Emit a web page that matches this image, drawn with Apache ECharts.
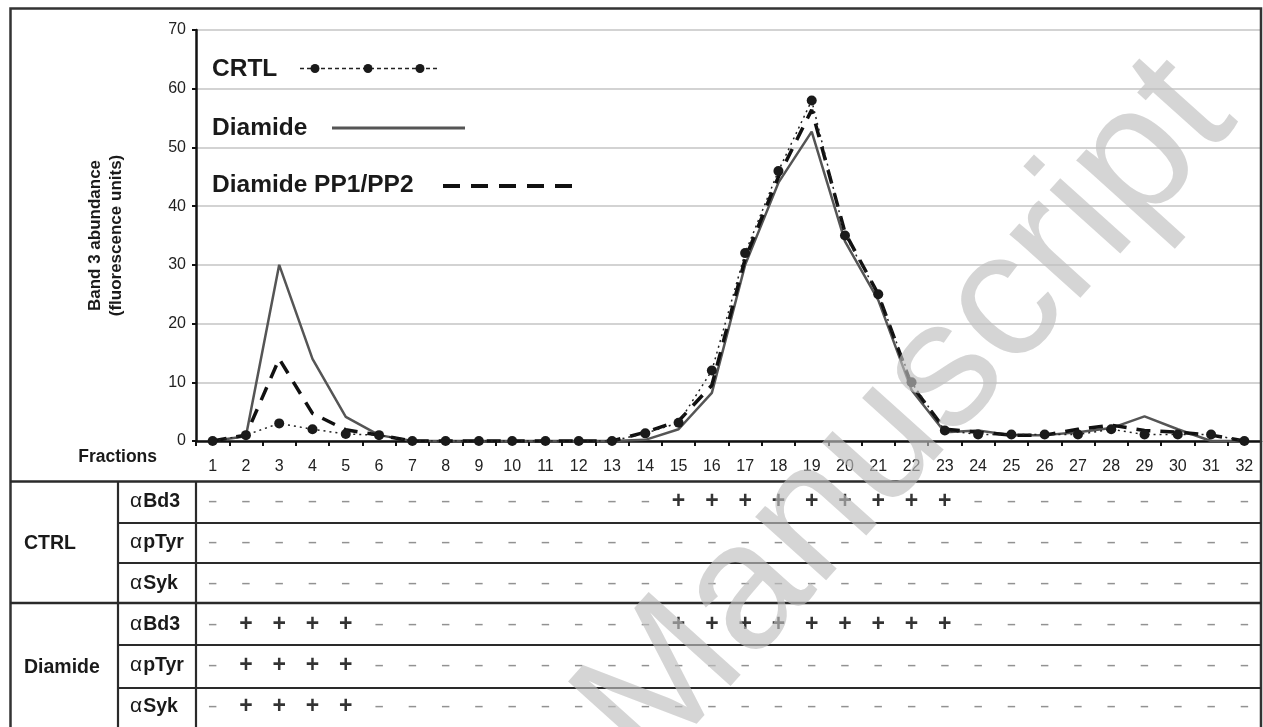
<!DOCTYPE html>
<html><head><meta charset="utf-8">
<script src="https://cdn.jsdelivr.net/npm/echarts@6/dist/echarts.min.js"></script>
<style>html,body{margin:0;padding:0;background:#fff}#c{width:1263px;height:727px}</style>
</head><body><div id="c"></div>
<script>
// ---- data ----
const fractions = ['1','2','3','4','5','6','7','8','9','10','11','12','13','14','15','16','17','18','19','20','21','22','23','24','25','26','27','28','29','30','31','32'];
const yTicks = [0, 70, 10]; // min, max, interval
const seriesNames = ['CRTL', 'Diamide', 'Diamide PP1/PP2'];
const crtl      = [0,1,3,2,1.2,1,0,0,0,0,0,0,0,1.3,3.1,12,32,46,58,35,25,10,1.8,1.1,1.1,1.1,1.1,2,1.1,1.1,1.1,0];
const diamide   = [0,0.8,30,14,4.1,1,0,0,0,0,0,0,0,0.2,2,8.2,30,44,52.7,34,24,8.7,1.5,1.8,1,1,1.5,2.2,4.2,2,0,0];
const diamidePP = [0,1,14,4.7,1.9,1,0,0,0,0,0,0,0,1.5,3.4,9.5,31,45,56.4,35.5,25,9.5,2,1.5,1,1,2,2.7,1.8,1.5,1,0];
const tableGroups = ['CTRL', 'Diamide'];
const tableRows = ['αBd3','αpTyr','αSyk','αBd3','αpTyr','αSyk'];
const tableMarks = [
  '--------------+++++++++---------',
  '--------------------------------',
  '--------------------------------',
  '-++++---------+++++++++---------',
  '-++++---------------------------',
  '-++++---------------------------'
];

// ---- build ----
const FONT = '"Liberation Sans", Arial, Helvetica, sans-serif';
const plusData = [], minusData = [];
tableMarks.forEach((row, r) => {
  row.split('').forEach((ch, c) => {
    (ch === '+' ? plusData : minusData).push([c, r]);
  });
});

const chart = echarts.init(document.getElementById('c'), null, {renderer: 'canvas'});

const hLine = (x1, x2, y, w) => ({type:'line', z:50, silent:true, shape:{x1:x1, y1:y, x2:x2, y2:y}, style:{stroke:'#2a2a2a', lineWidth:w || 2.2}});
const vLine = (x, y1, y2, w) => ({type:'line', z:50, silent:true, shape:{x1:x, y1:y1, x2:x, y2:y2}, style:{stroke:'#2a2a2a', lineWidth:w || 2.2}});
const legendText = (t, y) => ({type:'text', x:212, y:y, z:60, silent:true, style:{text:t, font:'bold 24.5px ' + FONT, fill:'#1a1a1a', textVerticalAlign:'middle'}});

const graphics = [
  {type:'rect', z:40, silent:true, shape:{x:10.5, y:8.5, width:1250.5, height:760}, style:{fill:'none', stroke:'#333', lineWidth:2.5}},
  // table lines
  hLine(10, 1261, 481.5, 2.5),
  hLine(118, 1261, 523),
  hLine(118, 1261, 563),
  hLine(10, 1261, 603, 2.5),
  hLine(118, 1261, 645),
  hLine(118, 1261, 688),
  vLine(118, 481, 740),
  vLine(196, 481, 740),
  // group labels
  {type:'text', x:24, y:544, z:60, silent:true, style:{text:tableGroups[0], font:'bold 19.5px ' + FONT, fill:'#1a1a1a', textVerticalAlign:'middle'}},
  {type:'text', x:24, y:668, z:60, silent:true, style:{text:tableGroups[1], font:'bold 19.5px ' + FONT, fill:'#1a1a1a', textVerticalAlign:'middle'}},
  // Fractions
  {type:'text', x:157, y:457, z:60, silent:true, style:{text:'Fractions', font:'bold 17.5px ' + FONT, fill:'#1a1a1a', textAlign:'right', textVerticalAlign:'middle'}},
  // legend
  legendText(seriesNames[0], 69),
  legendText(seriesNames[1], 128),
  legendText(seriesNames[2], 185),
  {type:'line', z:60, silent:true, shape:{x1:300, y1:68.5, x2:437, y2:68.5}, style:{stroke:'#222', lineWidth:1.5, lineDash:[4,3]}},
  {type:'circle', z:61, silent:true, shape:{cx:315, cy:68.5, r:4.5}, style:{fill:'#1a1a1a'}},
  {type:'circle', z:61, silent:true, shape:{cx:368, cy:68.5, r:4.5}, style:{fill:'#1a1a1a'}},
  {type:'circle', z:61, silent:true, shape:{cx:420, cy:68.5, r:4.5}, style:{fill:'#1a1a1a'}},
  {type:'line', z:60, silent:true, shape:{x1:332, y1:128, x2:465, y2:128}, style:{stroke:'#555', lineWidth:3}},
  {type:'line', z:60, silent:true, shape:{x1:443, y1:186, x2:575, y2:186}, style:{stroke:'#111', lineWidth:4, lineDash:[17,11]}},
  // watermark
  {type:'text', x:908, y:415, rotation:48*Math.PI/180, z:100, silent:true,
   style:{text:'Manuscript', font:'180px ' + FONT, fill:'rgba(190,190,190,0.65)', textAlign:'center', textVerticalAlign:'middle'}}
];

const option = {
  animation: false,
  backgroundColor: '#fff',
  textStyle: {fontFamily: FONT},
  grid: [
    {left:196, right:2, top:30, height:411},
    {left:196, right:2, top:481, height:246}
  ],
  xAxis: [
    {type:'category', gridIndex:0, data:fractions, boundaryGap:true,
     axisLine:{show:true, lineStyle:{color:'#111', width:2.5}},
     axisTick:{show:true, length:5, lineStyle:{color:'#111', width:2}},
     axisLabel:{color:'#222', fontSize:16, margin:18, fontFamily:FONT, interval:0},
     splitLine:{show:false}},
    {type:'category', gridIndex:1, data:fractions, boundaryGap:true, show:false}
  ],
  yAxis: [
    {type:'value', gridIndex:0, min:yTicks[0], max:yTicks[1], interval:yTicks[2],
     name:'Band 3 abundance\n(fluorescence units)', nameLocation:'middle', nameGap:69,
     nameTextStyle:{fontWeight:'bold', fontSize:17, color:'#1a1a1a', lineHeight:21, fontFamily:FONT},
     axisLine:{show:true, lineStyle:{color:'#111', width:2.5}},
     axisTick:{show:true, length:4, lineStyle:{color:'#111', width:2}},
     axisLabel:{color:'#222', fontSize:16, margin:10, fontFamily:FONT},
     splitLine:{show:true, lineStyle:{color:'#c4c4c4', width:1.5}}},
    {type:'category', gridIndex:1, data:tableRows.map((t, i) => String(i)), inverse:true, boundaryGap:true,
     axisLine:{show:false}, axisTick:{show:false}, splitLine:{show:false},
     axisLabel:{show:true, align:'left', margin:66, interval:0,
       formatter: (v) => { const t = tableRows[+v]; return '{a|' + t.charAt(0) + '}{b|' + t.slice(1) + '}'; },
       rich:{a:{fontSize:21, color:'#1a1a1a', fontFamily:FONT, padding:[0,1,0,0]}, b:{fontSize:19.5, fontWeight:'bold', color:'#1a1a1a', fontFamily:FONT}}}}
  ],
  series: [
    {name:seriesNames[1], type:'line', xAxisIndex:0, yAxisIndex:0, data:diamide, symbol:'none', showSymbol:false,
     lineStyle:{color:'#555', width:2.5}, z:2},
    {name:seriesNames[2], type:'line', xAxisIndex:0, yAxisIndex:0, data:diamidePP, symbol:'none', showSymbol:false,
     lineStyle:{color:'#111', width:3.5, type:[14,10]}, z:3},
    {name:seriesNames[0], type:'line', xAxisIndex:0, yAxisIndex:0, data:crtl, symbol:'circle', symbolSize:10, showAllSymbol:true,
     itemStyle:{color:'#1a1a1a'}, lineStyle:{color:'#222', width:1.5, type:[2,4]}, z:4},
    {type:'scatter', xAxisIndex:1, yAxisIndex:1, data:plusData, symbolSize:1, silent:true,
     itemStyle:{color:'rgba(0,0,0,0)'},
     label:{show:true, position:'inside', formatter:'+', fontSize:23, fontWeight:'bold', color:'#000', fontFamily:FONT}},
    {type:'scatter', xAxisIndex:1, yAxisIndex:1, data:minusData, symbolSize:1, silent:true,
     itemStyle:{color:'rgba(0,0,0,0)'},
     label:{show:true, position:'inside', formatter:'–', fontSize:15, fontWeight:'bold', color:'#777', fontFamily:FONT}}
  ],
  graphic: graphics
};
chart.setOption(option);
</script>
</body></html>
